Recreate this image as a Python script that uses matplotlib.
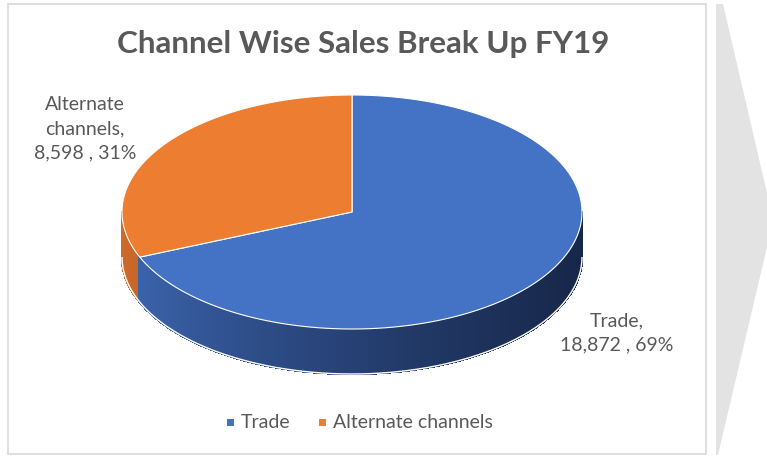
import numpy as np
import matplotlib.pyplot as plt
from matplotlib.patches import Polygon, Rectangle
from matplotlib.collections import PolyCollection
from matplotlib.colors import to_rgb

plt.rcParams['font.family'] = ['Lato', 'DejaVu Sans']

# data
categories = ['Trade', 'Alternate channels']
values = [18872, 8598]
top_colors = ['#4472C4', '#ED7D31']
side_light = ['#3F6AB7', '#CF6B2A']
side_dark = ['#17274A', '#7A3D14']
title = 'Channel Wise Sales Break Up FY19'

# layout (pixel coordinates, y down)
W, H = 767, 457
cx, cy = 352, 212
a, b = 230, 117
depth = 45
txt = '#595959'

fig = plt.figure(figsize=(W / 100, H / 100), dpi=100)
ax = fig.add_axes([0, 0, 1, 1])
ax.set_xlim(0, W)
ax.set_ylim(H, 0)
ax.axis('off')


def pt(theta, dy=0):
    t = np.radians(theta)
    return cx + a * np.cos(t), cy - b * np.sin(t) + dy


# slice angles, clockwise from 12 o'clock
total = sum(values)
bounds = [90]
for v in values:
    bounds.append(bounds[-1] - 360 * v / total)


def slice_of(theta):
    for i in range(len(values)):
        lo, hi = bounds[i + 1], bounds[i]
        for k in (-360, 0, 360):
            if lo <= theta + k <= hi:
                return i
    return 0


# side wall with shading
polys, cols = [], []
ts = np.linspace(180, 360, 361)
for t0, t1 in zip(ts[:-1], ts[1:]):
    tm = (t0 + t1) / 2
    i = slice_of(tm)
    f = (np.cos(np.radians(tm)) + 1) / 2
    f = f ** 0.7
    c = (1 - f) * np.array(to_rgb(side_light[i])) + f * np.array(to_rgb(side_dark[i]))
    x0, y0 = pt(t0)
    x1, y1 = pt(t1)
    polys.append([(x0, y0), (x1, y1), (x1, y1 + depth), (x0, y0 + depth)])
    cols.append(c)
ax.add_collection(PolyCollection(polys, facecolors=cols, edgecolors=cols,
                                 linewidths=1.0, antialiaseds=False))
# smooth bottom rim
th = np.linspace(180, 360, 300)
bx, by = pt(th, depth)
ax.plot(bx, by, color='white', lw=1.0, solid_capstyle='butt')

# top face
for i in range(len(values)):
    th = np.linspace(bounds[i], bounds[i + 1], 200)
    xs, ys = pt(th)
    verts = [(cx, cy)] + list(zip(xs, ys))
    ax.add_patch(Polygon(verts, closed=True, facecolor=top_colors[i],
                         edgecolor='white', linewidth=0.8, joinstyle='round'))

# data labels
pct = [round(100 * v / total) for v in values]
lab_trade = f'{categories[0]},\n{values[0]:,} , {pct[0]}%'
lab_alt = 'Alternate\nchannels,\n' + f'{values[1]:,} , {pct[1]}%'
ax.text(617, 333, lab_trade, ha='center', va='center', fontsize=14, color=txt,
        linespacing=1.5)
ax.text(85, 129, lab_alt, ha='center', va='center', fontsize=14, color=txt,
        linespacing=1.5)

# title
ax.text(363, 44, title, ha='center', va='center', fontsize=22.6, fontweight='bold',
        color=txt)

# legend
lx = [230, 322]
for i, c in enumerate(categories):
    ax.add_patch(Rectangle((lx[i] - 3.5, 418.5), 7, 7, facecolor=top_colors[i],
                           edgecolor='none'))
    ax.text(lx[i] + 11, 422, c, ha='left', va='center', fontsize=14, color=txt)

# chart frame
ax.add_patch(Rectangle((8, 3.5), 698, 450.5, facecolor='none', edgecolor='#D9D9D9',
                       linewidth=1.2))

# grey chevron on the right
ax.add_patch(Polygon([(716, 4), (723, 4), (767, 193), (767, 247), (718, 455), (716, 455)],
                     closed=True, facecolor='#E3E3E3', edgecolor='none'))

fig.savefig('out.png', dpi=100)
